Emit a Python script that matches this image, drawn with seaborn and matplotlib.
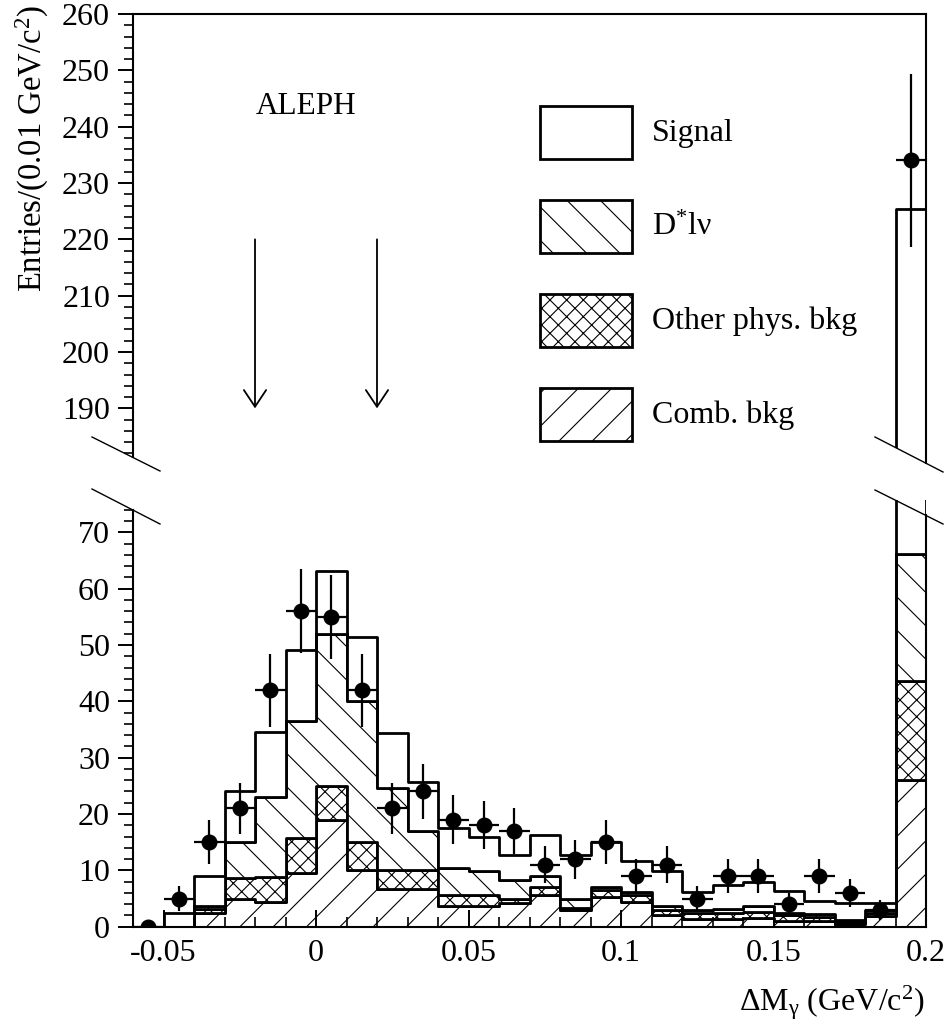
import numpy as np
import pandas as pd
import seaborn as sns
import matplotlib.pyplot as plt
from matplotlib.lines import Line2D
from matplotlib.patches import Rectangle, Polygon
from matplotlib.ticker import MultipleLocator

# bin centres (0.01 GeV/c^2 bins from -0.06 to 0.2)
bin_centres = [-0.055, -0.045, -0.035, -0.025, -0.015, -0.005, 0.005, 0.015, 0.025,
               0.035, 0.045, 0.055, 0.065, 0.075, 0.085, 0.095, 0.105, 0.115,
               0.125, 0.135, 0.145, 0.155, 0.165, 0.175, 0.185, 0.195]

# stacked MC components (entries per bin)
signal = [0, 2.5, 5.3, 8.9, 11.5, 12.6, 11.2, 11.5, 9.7, 8.6, 7.0, 6.2, 4.4,
          7.3, 7.8, 8.0, 5.5, 6.2, 3.2, 4.3, 4.3, 3.9, 2.4, 3.0, 1.2, 159.2]
dstar_lnu = [0, 0, 0.6, 6.5, 14.3, 20.8, 27.0, 25.0, 14.5, 6.9, 4.9, 4.2, 3.3,
             1.9, 1.5, 0.6, 0.6, 0.6, 0.6, 0.7, 1.1, 0.4, 0.5, 0.3, 0.5, 22.6]
other_phys = [0, 0, 0.7, 3.6, 4.5, 6.1, 5.9, 4.9, 3.4, 3.4, 1.9, 1.9, 0.8,
              1.5, 0.4, 1.2, 1.2, 0.9, 1.0, 1.0, 1.1, 0.9, 0.6, 0.4, 0.6, 17.6]
comb_bkg = [0, 0, 2.4, 5.0, 4.3, 9.6, 19.0, 10.1, 6.7, 6.7, 3.7, 3.7, 4.2,
            5.6, 3.0, 5.3, 4.4, 2.1, 1.4, 1.4, 1.5, 1.1, 1.1, 0.5, 1.9, 26.0]

# data points
data_counts = [0, 5, 15, 21, 42, 56, 55, 42, 21, 24, 19, 18, 17, 11, 12, 15,
               9, 11, 5, 9, 9, 4, 9, 6, 3, 234]

legend_labels = ["Signal", "D$^{*}$lν", "Other phys. bkg", "Comb. bkg"]
x_ticks = [-0.05, 0, 0.05, 0.1, 0.15, 0.2]
x_tick_labels = ["-0.05", "0", "0.05", "0.1", "0.15", "0.2"]
y_ticks_low = [0, 10, 20, 30, 40, 50, 60, 70]
y_ticks_up = [190, 200, 210, 220, 230, 240, 250, 260]
arrow_x = [-0.02, 0.02]

order = ["Signal", "Dlv", "Other", "Comb"]
hatches = {"Signal": "", "Dlv": "\\", "Other": "xx", "Comb": "/"}
comps = {"Signal": signal, "Dlv": dstar_lnu, "Other": other_phys, "Comb": comb_bkg}
df = pd.DataFrame([(x, name, w) for name in order for x, w in zip(bin_centres, comps[name])],
                  columns=["dm", "source", "entries"])

plt.rcParams["font.family"] = ["Liberation Serif", "DejaVu Serif"]
plt.rcParams["mathtext.fontset"] = "custom"
plt.rcParams["mathtext.rm"] = "Liberation Serif"
plt.rcParams["mathtext.it"] = "Liberation Serif:italic"
plt.rcParams["axes.unicode_minus"] = False
plt.rcParams["hatch.linewidth"] = 0.8

W, H = 948, 1035
def fx(px):
    return px / W
def fy(py):
    return 1 - py / H

fig = plt.figure(figsize=(W / 100, H / 100), dpi=100)
ax_top = fig.add_axes([fx(133), fy(463), (926 - 133) / W, (463 - 14) / H])
ax_bot = fig.add_axes([fx(133), fy(926.7), (926 - 133) / W, (926.7 - 500) / H])

counts = np.array(data_counts, dtype=float)
for ax in (ax_top, ax_bot):
    n0 = len(ax.collections)
    sns.histplot(df, x="dm", weights="entries", hue="source", hue_order=order,
                 palette={k: "white" for k in order}, multiple="stack", element="step",
                 fill=True, binwidth=0.01, binrange=(-0.06, 0.2), edgecolor="black",
                 linewidth=2, alpha=1, legend=False, ax=ax)
    for coll, name in zip(ax.collections[n0:], reversed(order)):
        coll.set_hatch(hatches[name])
    ax.errorbar(bin_centres, counts, yerr=np.sqrt(counts), xerr=0.005, fmt="o",
                color="black", ms=10.5, elinewidth=1.6, capsize=0)
    ax.set_xlim(-0.06, 0.2)
    ax.set_xlabel("")
    ax.set_ylabel("")
    ax.tick_params(axis="y", which="major", direction="out", length=10.5, width=1.4,
                   labelsize=23, pad=6)
    ax.tick_params(axis="y", which="minor", direction="out", length=6.5, width=1.2)
    ax.yaxis.set_minor_locator(MultipleLocator(2))
    for s in ax.spines.values():
        s.set_linewidth(1.5)

# upper panel (above the break)
ax_top.set_ylim(180.3, 260)
ax_top.set_yticks(y_ticks_up)
ax_top.tick_params(axis="x", which="both", bottom=False, labelbottom=False)
ax_top.spines["bottom"].set_visible(False)
ax_top.spines["left"].set_bounds(181.4, 260)
clip = Polygon([(0, 1), (1, 1), (1, fy(474.6)), (fx(860), fy(429.3)), (0, fy(429.3))],
               closed=True, transform=fig.transFigure)
for coll in ax_top.collections:
    coll.set_clip_path(clip)

# lower panel
ax_bot.set_ylim(0, 75.74)
ax_bot.set_yticks(y_ticks_low)
ax_bot.set_xticks(x_ticks, x_tick_labels)
ax_bot.xaxis.set_minor_locator(MultipleLocator(0.01))
ax_bot.tick_params(axis="x", which="major", direction="in", length=12, width=1.4,
                   labelsize=23, pad=9)
ax_bot.tick_params(axis="x", which="minor", direction="in", length=7, width=1.2)
ax_bot.spines["top"].set_visible(False)
ax_bot.spines["left"].set_bounds(0, 74.0)
ax_bot.spines["right"].set_bounds(0, 73.1)

# axis break marks
for x0, y0, x1, y1 in [(92, 437, 160, 471), (92, 489, 160, 524),
                       (875, 437, 943, 472), (875, 490, 943, 524)]:
    fig.add_artist(Line2D([fx(x0), fx(x1)], [fy(y0), fy(y1)], transform=fig.transFigure,
                          color="black", lw=1))

# signal window arrows
for xa in arrow_x:
    ax_top.annotate("", xy=(xa, 190), xytext=(xa, 220),
                    arrowprops=dict(arrowstyle="->,head_length=0.6,head_width=0.4",
                                    mutation_scale=20, lw=1.3, color="black",
                                    shrinkA=0, shrinkB=0))

ax_top.text(-0.0033, 243.5, "ALEPH", ha="center", va="center", fontsize=22.5)

# legend boxes
for i, (name, label) in enumerate(zip(order, legend_labels)):
    y0 = 106 + i * 94
    fig.add_artist(Rectangle((fx(540), fy(y0 + 53)), 92 / W, 53 / H, transform=fig.transFigure,
                             facecolor="white", edgecolor="black", lw=2, hatch=hatches[name]))
    fig.text(fx(652), fy(y0 + 27), label, ha="left", va="center", fontsize=23)

fig.text(fx(32), fy(5), "Entries/(0.01 GeV/c$^{2}$)", rotation=90, ha="center", va="top",
         fontsize=23.5)
fig.text(fx(925), fy(1003), "ΔM$_{\\mathrm{γ}}$ (GeV/c$^{2}$)", ha="right", va="center",
         fontsize=23)

fig.savefig("out.png", dpi=100)
